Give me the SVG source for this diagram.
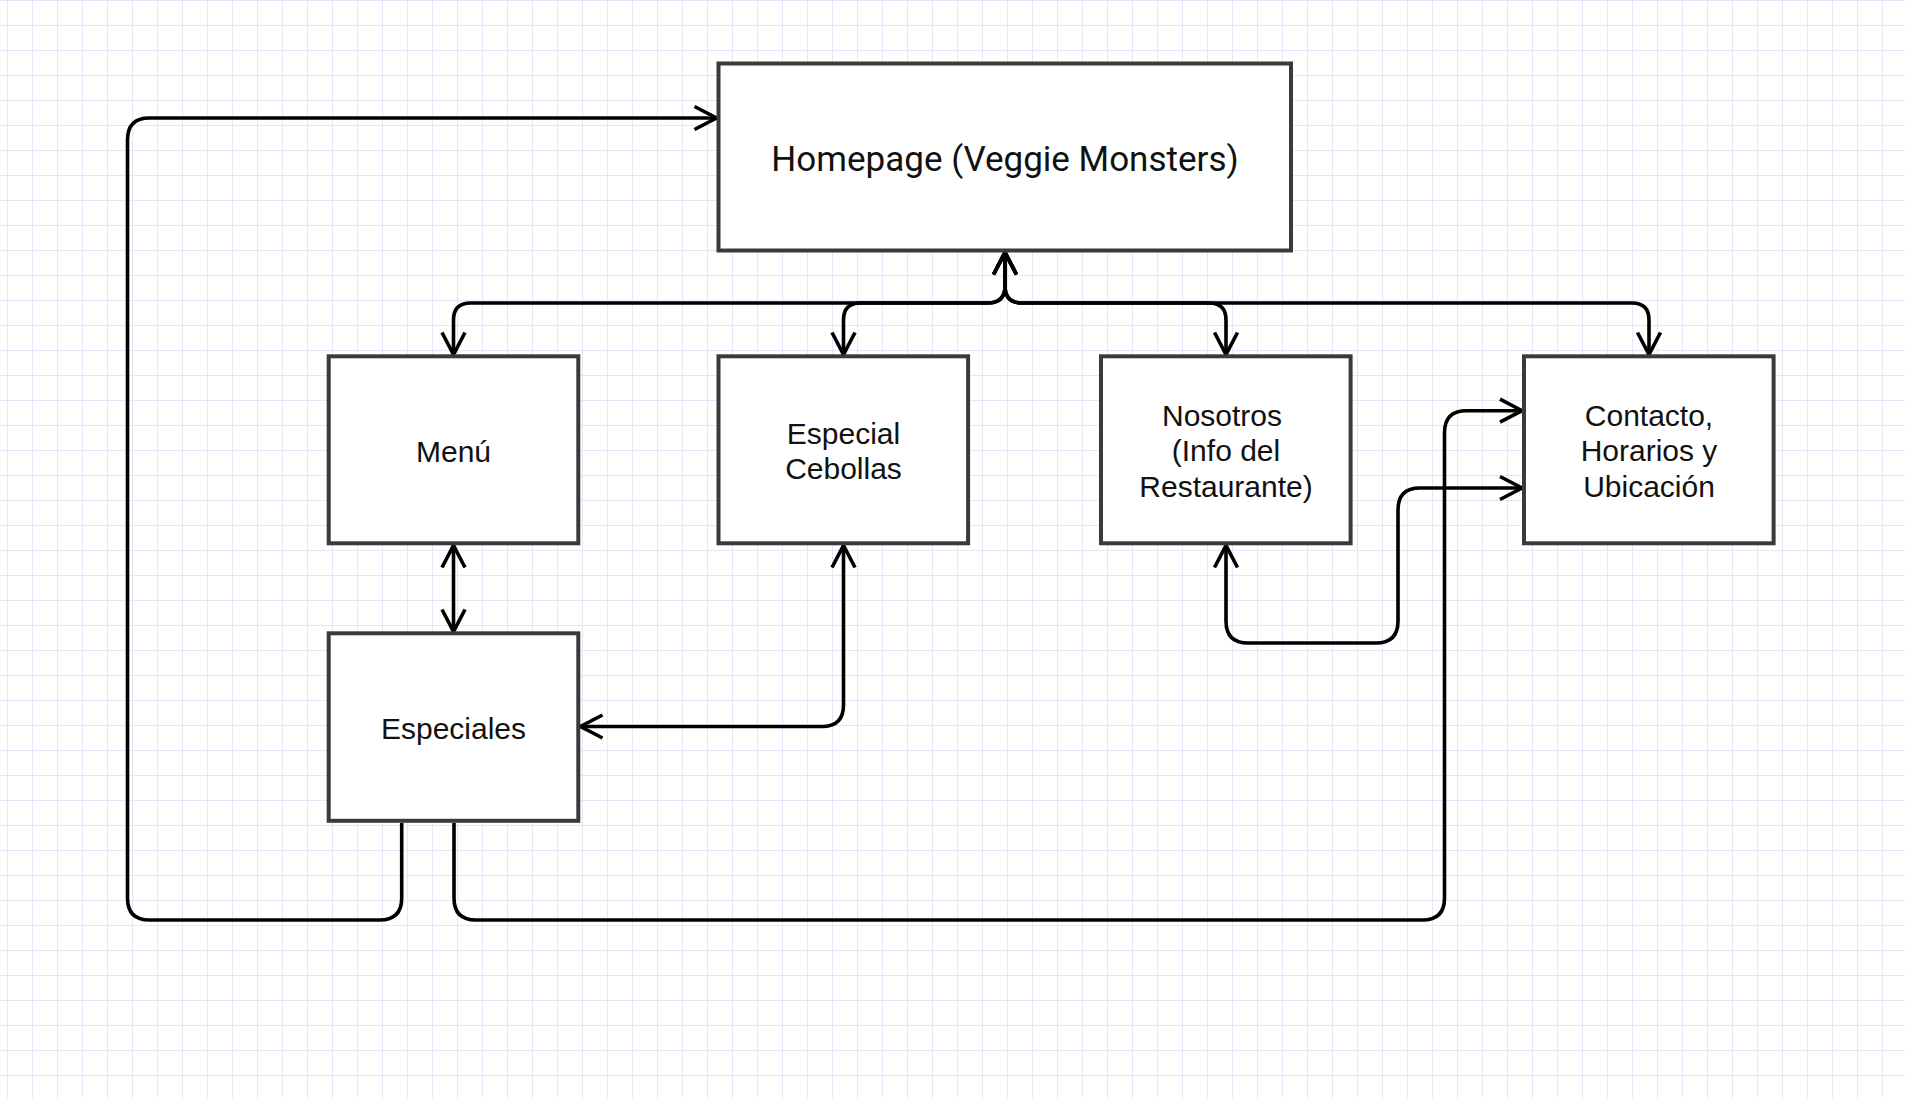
<svg xmlns="http://www.w3.org/2000/svg" width="1905" height="1098" viewBox="0 0 1905 1098">
  <style>
    .box { fill: #ffffff; stroke: #3a3a3a; stroke-width: 4; }
    .lbl { font-family: "Liberation Sans", Arial, sans-serif; font-size: 30px; fill: #111111; text-anchor: middle; }
    .big { font-family: Roboto, "Liberation Sans", sans-serif; font-size: 35px; fill: #111111; text-anchor: middle; }
    .edge { fill: none; stroke: #000000; stroke-width: 3.6; stroke-linejoin: round; }
  </style>
  <defs>
    <pattern id="grid" width="25" height="25" patternUnits="userSpaceOnUse" x="7" y="0">
      <path d="M0.5 0 V25 M0 0.5 H25" fill="none" stroke="#e6e6fa" stroke-width="1"/>
    </pattern>
    <marker id="arr" markerUnits="userSpaceOnUse" markerWidth="40" markerHeight="40" viewBox="0 0 40 40" refX="30" refY="20" orient="auto-start-reverse">
      <path d="M8 8.5 L30 20 L8 31.5" fill="none" stroke="#000000" stroke-width="3.6" stroke-linejoin="miter"/>
    </marker>
  </defs>

  <rect x="0" y="0" width="1905" height="1098" fill="#ffffff"/>
  <rect x="0" y="0" width="1905" height="1098" fill="url(#grid)"/>

  <g id="connectors">
    <path class="edge" marker-start="url(#arr)" marker-end="url(#arr)" d="M1005 252.5 L1005 286 Q1005 303 988 303 L470.5 303 Q453.5 303 453.5 320 L453.5 354.5"/>
    <path class="edge" marker-start="url(#arr)" marker-end="url(#arr)" d="M1005 252.5 L1005 286 Q1005 303 988 303 L860.5 303 Q843.5 303 843.5 320 L843.5 354.5"/>
    <path class="edge" marker-start="url(#arr)" marker-end="url(#arr)" d="M1005 252.5 L1005 286 Q1005 303 1022 303 L1209 303 Q1226 303 1226 320 L1226 354.5"/>
    <path class="edge" marker-start="url(#arr)" marker-end="url(#arr)" d="M1005 252.5 L1005 286 Q1005 303 1022 303 L1632 303 Q1649 303 1649 320 L1649 354.5"/>
    <path class="edge" marker-start="url(#arr)" marker-end="url(#arr)" d="M453.5 545.5 L453.5 631.5"/>
    <path class="edge" marker-start="url(#arr)" marker-end="url(#arr)" d="M843.5 545.5 L843.5 705 Q843.5 726.5 822 726.5 L580.5 726.5"/>
    <path class="edge" marker-start="url(#arr)" marker-end="url(#arr)" d="M1226 545.5 L1226 621 Q1226 643 1248 643 L1376 643 Q1398 643 1398 621 L1398 510 Q1398 488 1420 488 L1522 488"/>
    <path class="edge" marker-end="url(#arr)" d="M401.7 823 L401.7 898 Q401.7 920 379.7 920 L149.5 920 Q127.5 920 127.5 898 L127.5 140 Q127.5 118 149.5 118 L716.5 118"/>
    <path class="edge" marker-end="url(#arr)" d="M454 823 L454 898 Q454 920 476 920 L1422.5 920 Q1444.5 920 1444.5 898 L1444.5 432.7 Q1444.5 410.7 1466.5 410.7 L1522 410.7"/>
  </g>

  <g id="homepage">
    <rect class="box" x="718.5" y="63.5" width="572.5" height="187"/>
    <text class="big" x="1005" y="170.5">Homepage (Veggie Monsters)</text>
  </g>
  <g id="menu">
    <rect class="box" x="328.7" y="356.3" width="249.6" height="187"/>
    <text class="lbl" x="453.5" y="461.5">Menú</text>
  </g>
  <g id="especial-cebollas">
    <rect class="box" x="718.5" y="356.3" width="249.6" height="187"/>
    <text class="lbl" x="843.5" y="444">Especial</text>
    <text class="lbl" x="843.5" y="479">Cebollas</text>
  </g>
  <g id="nosotros">
    <rect class="box" x="1101" y="356.3" width="249.6" height="187"/>
    <text class="lbl" x="1222" y="425.5">Nosotros</text>
    <text class="lbl" x="1226" y="461">(Info del</text>
    <text class="lbl" x="1226" y="496.5">Restaurante)</text>
  </g>
  <g id="contacto">
    <rect class="box" x="1524" y="356.3" width="249.6" height="187"/>
    <text class="lbl" x="1649" y="425.5">Contacto,</text>
    <text class="lbl" x="1649" y="461">Horarios y</text>
    <text class="lbl" x="1649" y="496.5">Ubicación</text>
  </g>
  <g id="especiales">
    <rect class="box" x="328.7" y="633.3" width="249.6" height="187.5"/>
    <text class="lbl" x="453.5" y="738.5">Especiales</text>
  </g>
</svg>
